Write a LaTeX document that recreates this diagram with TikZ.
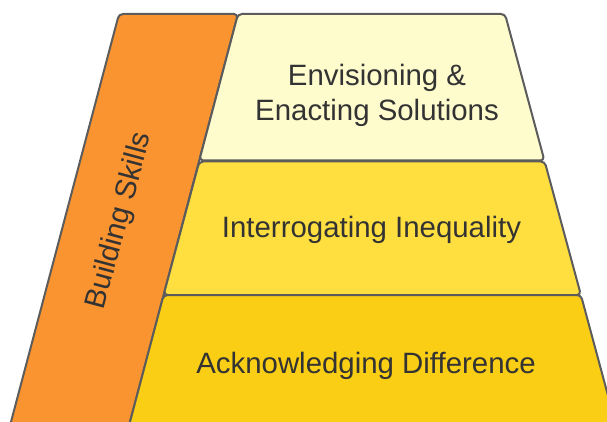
\documentclass[tikz,border=0pt]{standalone}
\usepackage{fontspec}
\setmainfont{Liberation Sans}
\definecolor{edge}{HTML}{5C5C5C}
\definecolor{txt}{HTML}{333333}
\definecolor{orangeband}{HTML}{FA9430}
\definecolor{topband}{HTML}{FEFBCD}
\definecolor{midband}{HTML}{FFDF40}
\definecolor{lowband}{HTML}{FACE14}
\begin{document}
\begin{tikzpicture}[x=1pt,y=-1pt,
  band/.style={draw=edge,line width=2pt,rounded corners=4pt,line join=round},
  label/.style={text=txt,font=\fontsize{29.4}{35}\selectfont,inner sep=0pt,align=center}]
\useasboundingbox (0,0) rectangle (607,422);
\clip (0,0) rectangle (607,422);
% orange side band
\draw[band,fill=orangeband] (119,14) -- (238,14) -- (125.2,440) -- (6.2,440) -- cycle;
% top band
\draw[band,fill=topband] (238,14) -- (505,14) -- (544.4,160.5) -- (199.3,160.5) -- cycle;
% middle band
\draw[band,fill=midband] (199.3,161.5) -- (544.7,161.5) -- (580.9,295) -- (163.6,295) -- cycle;
% bottom band
\draw[band,fill=lowband] (163.6,295) -- (580.9,295) -- (620,440) -- (125.2,440) -- cycle;
% texts
\node[label] (envision) at (377,95) {Envisioning \&\\Enacting Solutions};
\node[label,anchor=base] (interrogate) at (371.5,237) {Interrogating Inequality};
\node[label,anchor=base] (acknowledge) at (366,373) {Acknowledging Difference};
\node[label,rotate=75] (skills) at (120,221) {Building Skills};
\end{tikzpicture}
\end{document}
